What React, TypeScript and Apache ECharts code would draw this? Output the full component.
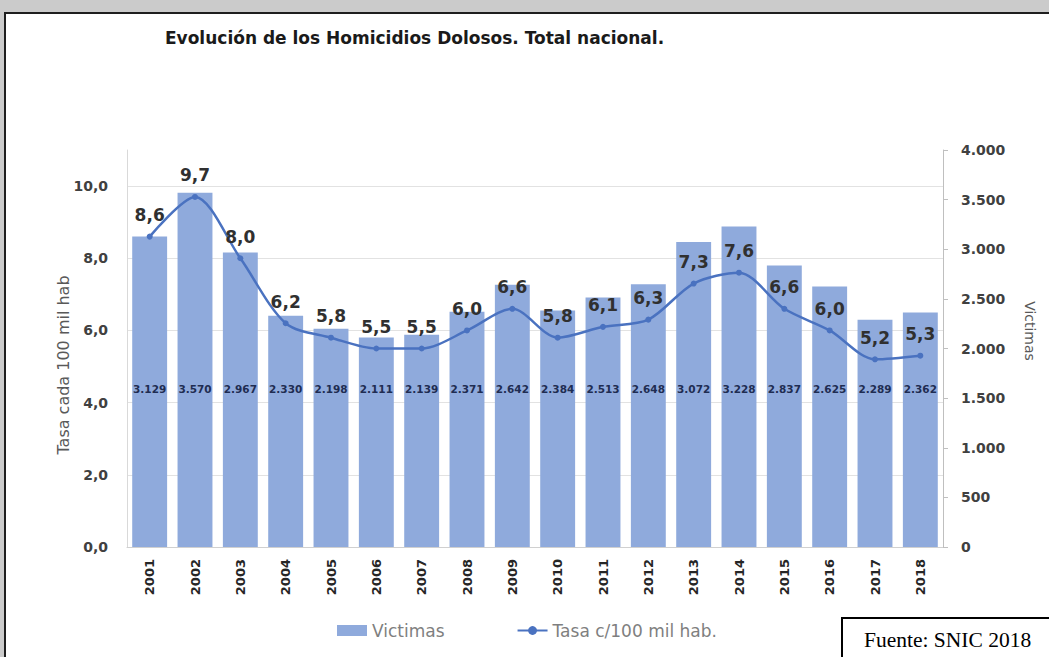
import React, { useEffect, useRef } from 'react';
import * as echarts from 'echarts';

const years = ['2001', '2002', '2003', '2004', '2005', '2006', '2007', '2008', '2009', '2010', '2011', '2012', '2013', '2014', '2015', '2016', '2017', '2018'];
const victimas = [3129, 3570, 2967, 2330, 2198, 2111, 2139, 2371, 2642, 2384, 2513, 2648, 3072, 3228, 2837, 2625, 2289, 2362];
const tasa = [8.6, 9.7, 8.0, 6.2, 5.8, 5.5, 5.5, 6.0, 6.6, 5.8, 6.1, 6.3, 7.3, 7.6, 6.6, 6.0, 5.2, 5.3];
const titleText = 'Evolución de los Homicidios Dolosos. Total nacional.';
const leftAxisName = 'Tasa cada 100 mil hab';
const rightAxisName = 'Victimas';
const barName = 'Victimas';
const lineName = 'Tasa c/100 mil hab.';
const sourceText = 'Fuente: SNIC 2018';

const FONT = '"DejaVu Sans", sans-serif';
const thousands = (v: number) => String(Math.round(v)).replace(/\B(?=(\d{3})+(?!\d))/g, '.');
const decimal = (v: number) => Number(v).toFixed(1).replace('.', ',');

export default function App() {
  const ref = useRef<HTMLDivElement>(null);

  useEffect(() => {
    if (!ref.current) return;
    const chart = echarts.init(ref.current, undefined, { renderer: 'svg' });
    chart.setOption({
      animation: false,
      backgroundColor: 'transparent',
      title: {
        text: titleText,
        left: 160,
        top: 24,
        textStyle: { fontFamily: FONT, fontSize: 17, fontWeight: 'bold', color: '#1a1a1a' },
      },
      legend: {
        left: 332,
        top: 617,
        itemWidth: 30,
        itemHeight: 11,
        itemGap: 72,
        textStyle: { fontFamily: FONT, fontSize: 17, color: '#7f7f7f' },
        data: [
          { name: barName, icon: 'rect' },
          { name: lineName },
        ],
      },
      grid: { left: 127, right: 106, top: 150, bottom: 110, outerBoundsMode: 'none' },
      xAxis: {
        type: 'category',
        data: years,
        axisLine: { show: true, lineStyle: { color: '#d0d0d0', width: 1 } },
        axisTick: { show: false },
        axisLabel: {
          rotate: 90,
          margin: 12,
          interval: 0,
          fontFamily: FONT,
          fontSize: 13,
          fontWeight: 'bold',
          color: '#262626',
        },
      },
      yAxis: [
        {
          type: 'value',
          min: 0,
          max: 11,
          interval: 2,
          position: 'left',
          axisLine: { show: true, lineStyle: { color: '#d9d9d9' } },
          axisTick: { show: false },
          axisLabel: {
            showMaxLabel: false,
            margin: 19,
            fontFamily: FONT,
            fontSize: 14,
            fontWeight: 'bold',
            color: '#404040',
            formatter: (v: number) => (v > 10.5 ? '' : decimal(v)),
          },
          splitLine: { show: true, showMaxLine: false, lineStyle: { color: '#e2e2e2', width: 1 } },
        },
        {
          type: 'value',
          min: 0,
          max: 4000,
          interval: 500,
          position: 'right',
          axisLine: { show: true, lineStyle: { color: '#bfbfbf' } },
          axisTick: { show: true, length: 5, inside: false, lineStyle: { color: '#bfbfbf' } },
          axisLabel: {
            margin: 18,
            fontFamily: FONT,
            fontSize: 14,
            fontWeight: 'bold',
            color: '#404040',
            formatter: (v: number) => thousands(v),
          },
          splitLine: { show: false },
        },
      ],
      series: [
        {
          name: barName,
          type: 'bar',
          yAxisIndex: 1,
          data: victimas,
          barWidth: '77%',
          itemStyle: { color: '#8faadc' },
          label: {
            show: true,
            position: 'insideBottom',
            distance: 153,
            fontFamily: FONT,
            fontSize: 10.5,
            fontWeight: 'bold',
            color: '#1f2d52',
            formatter: (p: any) => thousands(p.value),
          },
          z: 2,
        },
        {
          name: lineName,
          type: 'line',
          yAxisIndex: 0,
          data: tasa,
          smooth: 0.3,
          symbol: 'circle',
          symbolSize: 6,
          lineStyle: { color: '#4a72c0', width: 2.5 },
          itemStyle: { color: '#4a72c0' },
          label: {
            show: true,
            position: 'top',
            distance: 10,
            fontFamily: FONT,
            fontSize: 17,
            fontWeight: 'bold',
            color: '#303030',
            formatter: (p: any) => decimal(p.value),
          },
          z: 5,
        },
      ],
      graphic: [
        {
          type: 'text',
          x: 63,
          y: 365,
          rotation: Math.PI / 2,
          style: {
            text: leftAxisName,
            fontFamily: FONT,
            fontSize: 16,
            fill: '#595959',
            align: 'center',
            verticalAlign: 'middle',
          },
        },
        {
          type: 'text',
          x: 1030,
          y: 331,
          rotation: -Math.PI / 2,
          style: {
            text: rightAxisName,
            fontFamily: FONT,
            fontSize: 14,
            fill: '#595959',
            align: 'center',
            verticalAlign: 'middle',
          },
        },
        {
          type: 'rect',
          shape: { x: 842, y: 618, width: 230, height: 60 },
          style: { fill: '#ffffff', stroke: '#000000', lineWidth: 2 },
          z: 10,
        },
        {
          type: 'text',
          x: 864,
          y: 640,
          style: {
            text: sourceText,
            fontFamily: '"Liberation Serif", "Times New Roman", serif',
            fontSize: 21.5,
            fill: '#000000',
            verticalAlign: 'middle',
          },
          z: 11,
        },
      ],
    });
    return () => chart.dispose();
  }, []);

  return (
    <div style={{ position: 'fixed', left: 0, top: 0, width: 1049, height: 657, background: '#cbcbcb', overflow: 'hidden' }}>
      <div
        style={{
          position: 'absolute',
          left: 4,
          top: 12,
          width: 1070,
          height: 670,
          background: '#ffffff',
          border: '2px solid #1e1e1e',
        }}
      />
      <div ref={ref} style={{ position: 'absolute', left: 0, top: 0, width: 1049, height: 657 }} />
    </div>
  );
}
